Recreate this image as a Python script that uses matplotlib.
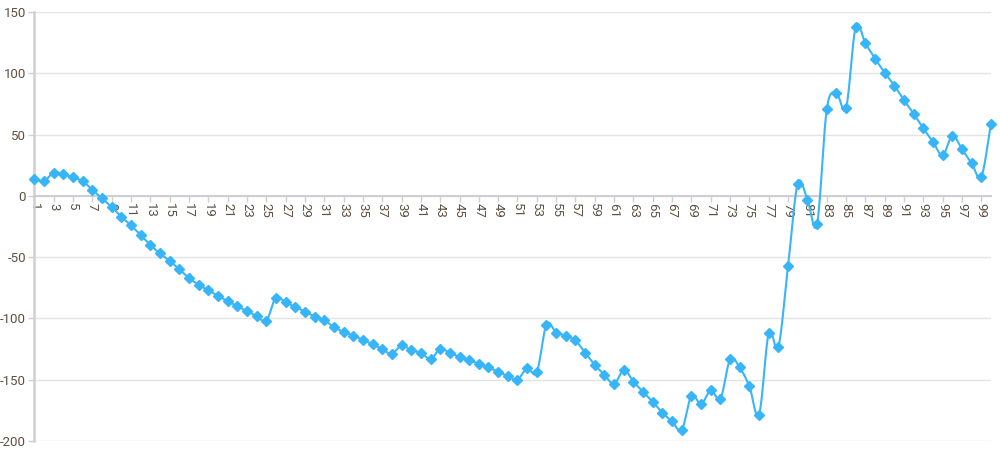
import numpy as np
import matplotlib
matplotlib.use('Agg')
import matplotlib.pyplot as plt

# category labels 1..100 and the series
categories = list(range(1, 101))
values = [
    13.5, 12, 19, 17.5, 15, 12, 5, -2, -9, -17,
    -24, -32, -40, -47, -53, -60, -67, -72.5, -77, -81.5,
    -86, -90, -94, -98, -102, -83, -87, -90.5, -94.5, -98.5,
    -101.5, -107, -111, -114, -117.5, -121, -125, -129, -122, -126,
    -128, -133, -125, -128, -131.5, -134, -137, -140, -143.5, -147,
    -150, -140.5, -144, -105, -111.5, -114, -118, -128, -138, -146,
    -153.5, -142, -151.5, -160, -168, -177, -184, -191, -163, -170,
    -158.5, -165.5, -133.5, -140, -155.5, -178.5, -112, -123, -57, 10,
    -3, -23, 70.5, 84, 71.5, 138, 124.5, 112, 100.5, 90,
    78, 67, 55, 44, 33, 49, 38, 26.5, 15.5, 59,
]
y_ticks = [-200, -150, -100, -50, 0, 50, 100, 150]
x_ticks = categories[::2]

LINE = '#38b5f8'
LABEL = '#5e5040'
GRID = '#e3e3e3'
AXIS = '#cfcfcf'


def catmull_rom(x, y, n=16):
    """smooth curve through the points, for drawing only"""
    x = np.asarray(x, float)
    y = np.asarray(y, float)
    px = np.concatenate([[2 * x[0] - x[1]], x, [2 * x[-1] - x[-2]]])
    py = np.concatenate([[2 * y[0] - y[1]], y, [2 * y[-1] - y[-2]]])
    t = np.linspace(0, 1, n, endpoint=False)
    xs, ys = [], []
    for i in range(1, len(px) - 2):
        for p, out in ((px, xs), (py, ys)):
            p0, p1, p2, p3 = p[i - 1], p[i], p[i + 1], p[i + 2]
            out.append(0.5 * ((2 * p1) + (-p0 + p2) * t
                              + (2 * p0 - 5 * p1 + 4 * p2 - p3) * t ** 2
                              + (-p0 + 3 * p1 - 3 * p2 + p3) * t ** 3))
    xs = np.concatenate(xs + [[x[-1]]])
    ys = np.concatenate(ys + [[y[-1]]])
    return xs, ys


plt.rcParams['font.family'] = ['Roboto', 'DejaVu Sans']
fig = plt.figure(figsize=(10, 4.55), dpi=100)
ax = fig.add_axes([0.0343, 1 - 441 / 455, 0.9567, (441 - 12) / 455])

sx, sy = catmull_rom(categories, values)
ax.plot(sx, sy, color=LINE, linewidth=1.5, zorder=3)
ax.plot(categories, values, linestyle='none', marker='D', markersize=4.6,
        color=LINE, zorder=4, clip_on=False)

ax.set_xlim(1, 100)
ax.set_ylim(-200, 150)
ax.set_yticks(y_ticks)
ax.set_yticklabels([str(v) for v in y_ticks])
ax.set_xticks(x_ticks)
ax.set_xticklabels([str(v) for v in x_ticks])

ax.grid(axis='y', color=GRID, linewidth=1)
ax.set_axisbelow(True)

for s in ['top', 'right']:
    ax.spines[s].set_visible(False)
ax.spines['bottom'].set_position(('data', 0))
ax.spines['bottom'].set_color(AXIS)
ax.spines['bottom'].set_linewidth(1.5)
ax.spines['left'].set_color(AXIS)
ax.spines['left'].set_linewidth(1.8)

ax.tick_params(axis='y', colors=AXIS, length=4, width=1, pad=2,
               labelcolor=LABEL, labelsize=9.5)
ax.tick_params(axis='x', colors=AXIS, length=4, width=1, pad=1,
               labelcolor=LABEL, labelsize=9.5, labelrotation=-90)
for lbl in ax.get_xticklabels():
    lbl.set_rotation(-90)
    lbl.set_va('top')
    lbl.set_ha('center')

fig.savefig('out.png', dpi=100)
